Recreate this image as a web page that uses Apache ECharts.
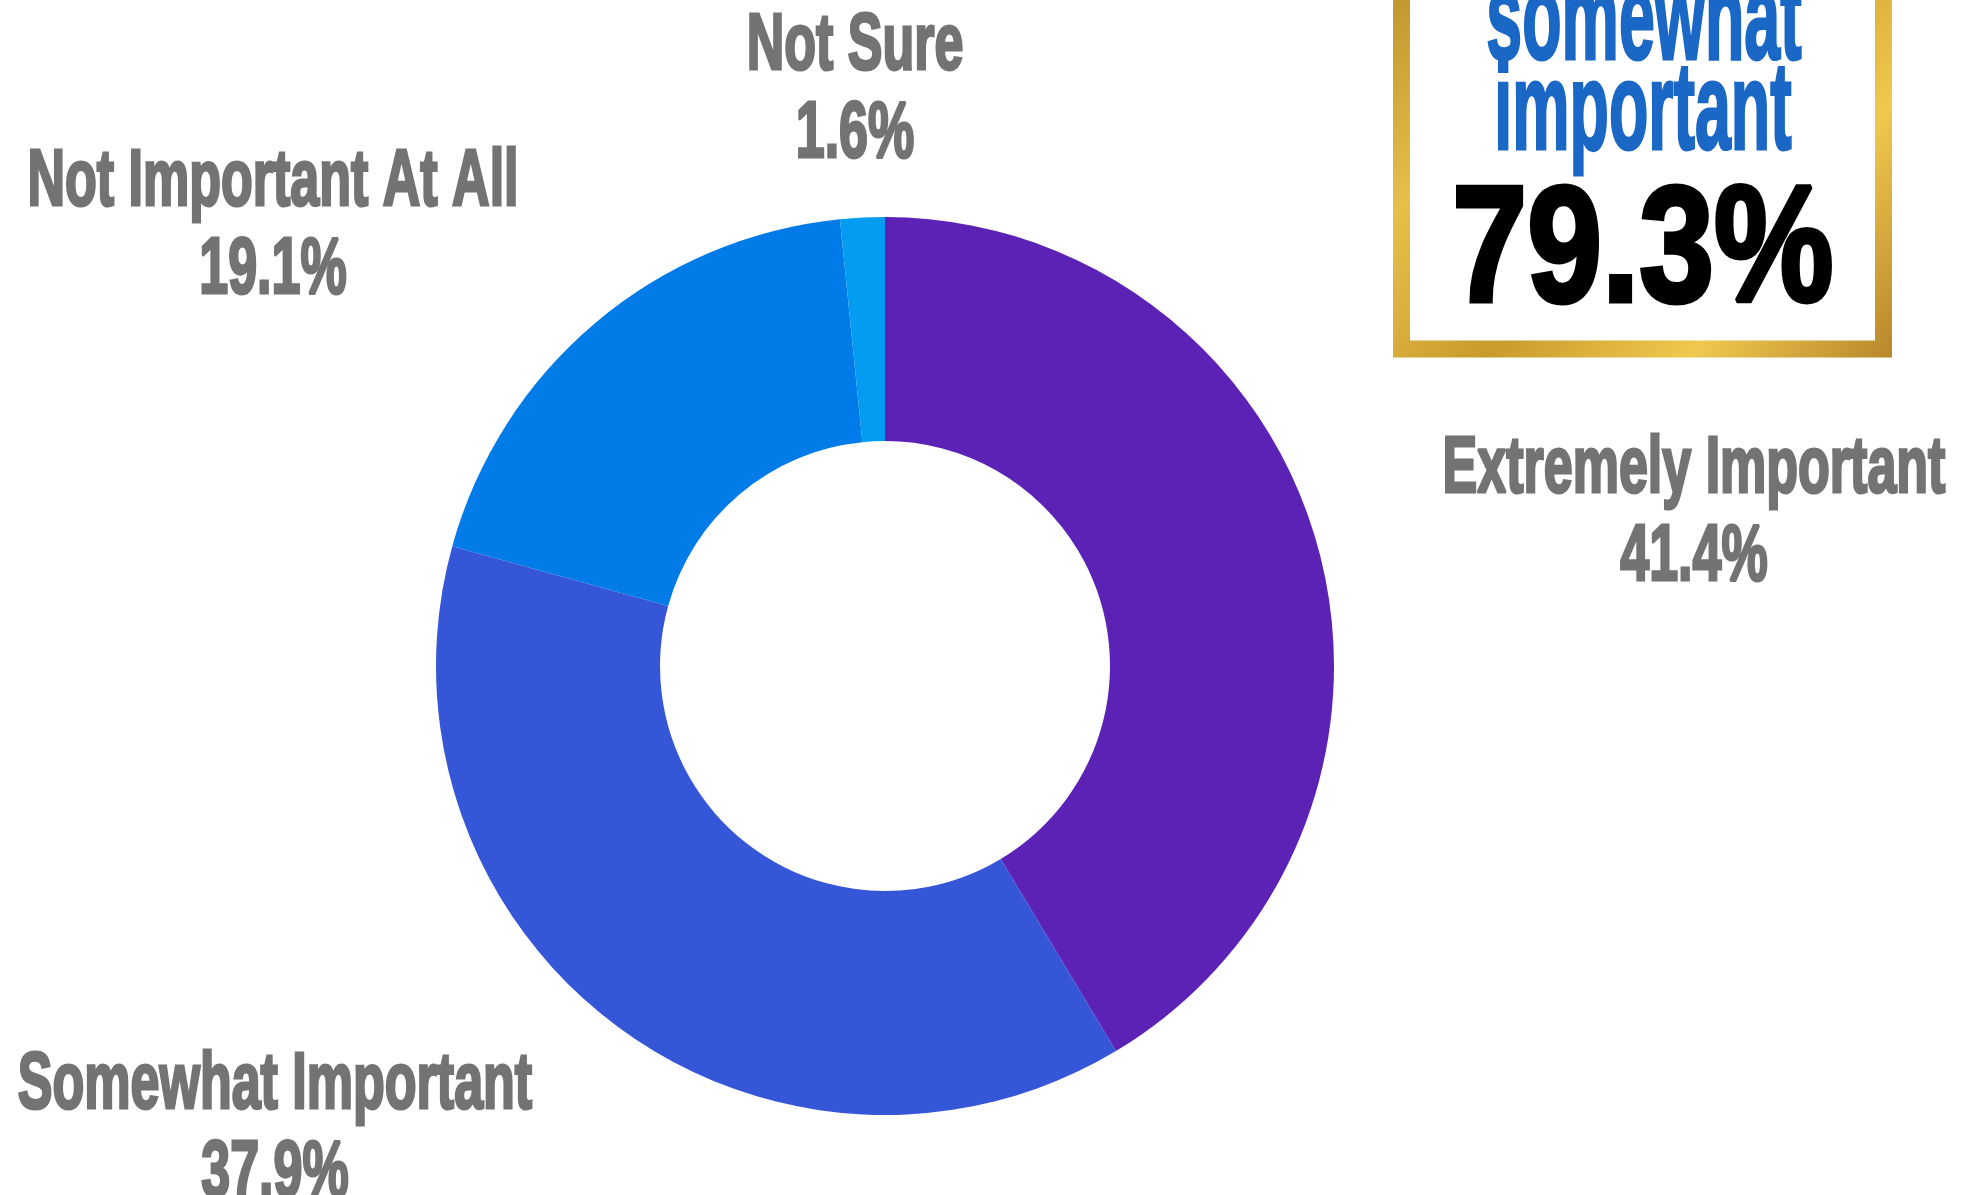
<!DOCTYPE html>
<html>
<head>
<meta charset="utf-8">
<script src="https://cdn.jsdelivr.net/npm/echarts@6/dist/echarts.min.js"></script>
<style>
html,body{margin:0;padding:0;background:#fff;}
#chart{width:1979px;height:1195px;}
</style>
</head>
<body>
<div id="chart"></div>
<script>
// ---- data ----
const categories = ['Extremely Important', 'Somewhat Important', 'Not Important At All', 'Not Sure'];
const values = [41.4, 37.9, 19.1, 1.6];
const colors = ['#5c21b5', '#3656d8', '#017be7', '#039cf0'];
const boxLines = ['somewhat', 'important'];
const highlightIdx = [0, 1]; // extremely + somewhat important

// ---- layout (not data) ----
const labelPos = [
  { x: 1694, y: 514 },
  { x: 275, y: 1130 },
  { x: 273, y: 227 },
  { x: 855, y: 91 }
];
const FONT = '"Liberation Sans", Arial, sans-serif';

const combined = highlightIdx.reduce((s, i) => s + values[i], 0).toFixed(1) + '%';

const chart = echarts.init(document.getElementById('chart'), null, { renderer: 'canvas' });

const gold = {
  type: 'linear', x: 0, y: 0, x2: 1, y2: 1,
  colorStops: [
    { offset: 0, color: '#b8902a' },
    { offset: 0.25, color: '#e6c04b' },
    { offset: 0.5, color: '#c99a2c' },
    { offset: 0.75, color: '#efc94f' },
    { offset: 1, color: '#b8862a' }
  ]
};

const labelTexts = categories.map((c, i) => ({
  type: 'text',
  x: labelPos[i].x,
  y: labelPos[i].y,
  scaleX: 0.65,
  silent: true,
  style: {
    text: c + '\n' + values[i].toFixed(1) + '%',
    font: 'bold 80px ' + FONT,
    lineHeight: 88,
    fill: '#737373', stroke: '#737373', lineWidth: 3,
    textAlign: 'center', textVerticalAlign: 'middle'
  }
}));

chart.setOption({
  backgroundColor: '#ffffff',
  animation: false,
  series: [{
    type: 'pie',
    center: [885, 666],
    radius: [225, 449],
    startAngle: 90,
    clockwise: true,
    avoidLabelOverlap: false,
    data: categories.map((c, i) => ({ name: c, value: values[i], itemStyle: { color: colors[i] } })),
    itemStyle: { borderWidth: 0 },
    label: { show: false },
    labelLine: { show: false },
    emphasis: { disabled: true }
  }],
  graphic: [
    {
      type: 'rect',
      shape: { x: 1401.5, y: -30, width: 482, height: 379 },
      style: { fill: '#ffffff', stroke: gold, lineWidth: 17 }
    },
    {
      type: 'text',
      x: 1644, y: 25,
      scaleX: 0.52,
      style: {
        text: boxLines[0],
        font: 'bold 124px ' + FONT,
        fill: '#1a67c5', stroke: '#1a67c5', lineWidth: 3,
        textAlign: 'center', textVerticalAlign: 'middle'
      }
    },
    {
      type: 'text',
      x: 1643, y: 115,
      scaleX: 0.52,
      style: {
        text: boxLines[1],
        font: 'bold 124px ' + FONT,
        fill: '#1a67c5', stroke: '#1a67c5', lineWidth: 3,
        textAlign: 'center', textVerticalAlign: 'middle'
      }
    },
    {
      type: 'text',
      x: 1643, y: 255,
      scaleX: 0.81,
      style: {
        text: combined,
        font: 'bold 166px ' + FONT,
        fill: '#000000', stroke: '#000000', lineWidth: 5,
        textAlign: 'center', textVerticalAlign: 'middle'
      }
    }
  ].concat(labelTexts)
});
</script>
</body>
</html>
